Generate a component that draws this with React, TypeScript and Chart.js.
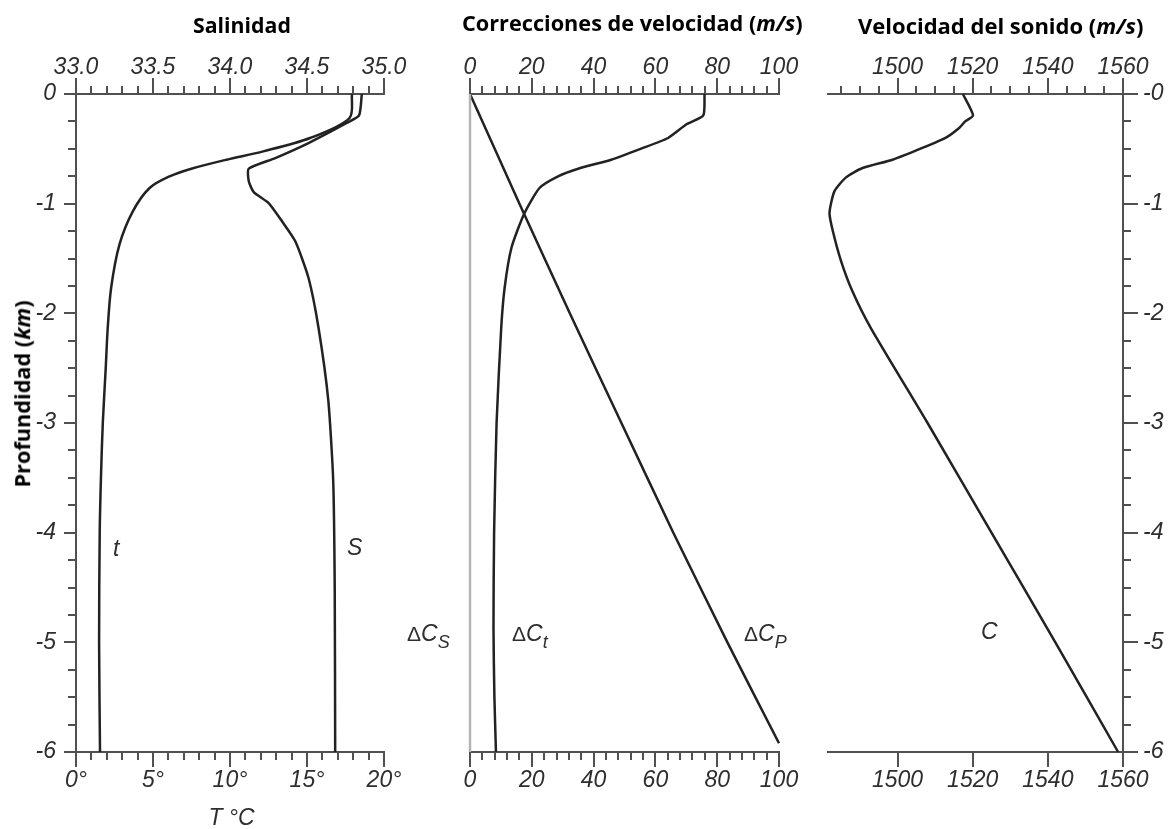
import React, { useEffect, useRef } from 'react';
import { Chart, registerables } from 'chart.js';

Chart.register(...registerables);

// ---------------- Data ----------------
// Panel 1: temperature (bottom axis, °C) and salinity (top axis) versus depth (km)
const tempDepth = [0, -0.219, -0.401, -0.523, -0.599, -0.681, -0.751, -0.857, -1.07, -1.374, -1.769, -2.134, -2.5, -3, -3.5, -4, -5, -6];
const tempValues = [17.92, 17.76, 15.2, 12.16, 9.77, 7.49, 6.08, 4.78, 3.69, 2.82, 2.28, 2.06, 1.93, 1.74, 1.62, 1.54, 1.5, 1.56];

const salDepth = [0, -0.195, -0.264, -0.447, -0.584, -0.681, -0.796, -0.894, -0.994, -1.161, -1.343, -1.678, -2.134, -2.79, -3.52, -4.5, -6];
const salValues = [34.856, 34.838, 34.758, 34.51, 34.294, 34.122, 34.122, 34.154, 34.251, 34.338, 34.424, 34.51, 34.575, 34.638, 34.67, 34.68, 34.683];

// Panel 2: speed corrections (m/s)
const dcpDepth = [0, -1, -2, -3, -4, -5, -5.92];
const dcpValues = [0, 16.0, 32.3, 49.0, 65.8, 83.3, 100];

const dctDepth = [0, -0.195, -0.274, -0.401, -0.498, -0.599, -0.681, -0.751, -0.857, -1.094, -1.404, -1.769, -2.134, -3, -4, -4.87, -5.5, -6];
const dctValues = [75.9, 75.5, 70.2, 64.1, 55.4, 45.7, 35.0, 28.5, 22.5, 17.5, 13.4, 11.2, 10.1, 8.6, 7.8, 7.6, 7.9, 8.4];

const dcsDepth = [0, -6];
const dcsValues = [0, 0];

// Panel 3: sound speed (m/s)
const cDepth = [0, -0.195, -0.25, -0.31, -0.395, -0.492, -0.599, -0.675, -0.76, -0.888, -1.085, -1.252, -1.526, -1.799, -2.134, -3, -4, -5, -6];
const cValues = [1517.4, 1520.1, 1518.0, 1516.4, 1513.0, 1506.6, 1498.7, 1490.7, 1486.3, 1483.2, 1481.9, 1482.8, 1485.0, 1488.0, 1492.9, 1508, 1525, 1542, 1558.7];

// Tick labels
const depthTicks = [0, -1, -2, -3, -4, -5, -6];
const salinityTicks = [33, 33.5, 34, 34.5, 35];
const tempTicks = [0, 5, 10, 15, 20];
const correctionTicks = [0, 20, 40, 60, 80, 100];
const speedTicks = [1500, 1520, 1540, 1560];

const steps = (a: number, b: number, s: number) =>
  Array.from({ length: Math.round((b - a) / s) + 1 }, (_, i) => +(a + i * s).toFixed(4));

const depthMinor = steps(-6, 0, 0.25);
const salinityMinor = steps(33, 35, 0.1);
const tempMinor = steps(0, 20, 1);
const correctionMinor = steps(0, 100, 4);
const speedMinor = steps(1485, 1560, 5);

// ---------------- Styling helpers ----------------
const AXIS = '#505050';
const LABEL = '#2e2e2e';
const LINE = '#222222';
const tickFont = { family: "'Liberation Sans', Arial, sans-serif", size: 23, style: 'italic' as const };

type Side = 'top' | 'bottom' | 'left' | 'right';
function scale(
  side: Side,
  min: number,
  max: number,
  values: number[],
  o: { major: boolean; len: number; size: number; pad?: number; fmt?: (v: number) => string; border?: boolean }
): any {
  const horizontal = side === 'top' || side === 'bottom';
  return {
    type: 'linear',
    axis: horizontal ? 'x' : 'y',
    position: side,
    min,
    max,
    bounds: 'data',
    weight: o.major ? 1 : 0,
    border: { display: !!o.border, color: AXIS, width: 2 },
    grid: {
      display: true,
      drawOnChartArea: false,
      drawTicks: true,
      tickLength: o.len,
      tickColor: AXIS,
      tickWidth: 2,
      color: AXIS,
      lineWidth: 2,
    },
    ticks: {
      display: !!o.fmt,
      autoSkip: false,
      maxRotation: 0,
      minRotation: 0,
      padding: o.pad ?? 0,
      font: tickFont,
      color: LABEL,
      callback: (v: any) => (o.fmt ? o.fmt(Number(v)) : ''),
    },
    afterBuildTicks: (s: any) => {
      s.ticks = values.map((value) => ({ value }));
    },
    afterFit: (s: any) => {
      if (horizontal) s.height = o.size;
      else s.width = o.size;
    },
  };
}

const series = (xs: number[], ys: number[], xAxisID: string, color = LINE, width = 2.5, tension = 0.3) => ({
  data: xs.map((x, i) => ({ x, y: ys[i] })),
  xAxisID,
  yAxisID: 'y',
  borderColor: color,
  borderWidth: width,
  pointRadius: 0,
  tension,
  fill: false,
  clip: false as any,
});

const baseOptions = (padding: any, scales: any): any => ({
  animation: false,
  responsive: false,
  events: [],
  layout: { padding },
  plugins: { legend: { display: false }, tooltip: { enabled: false }, title: { display: false } },
  scales,
});

const depthFmtLeft = (v: number) => String(v);
const depthFmtRight = (v: number) => (v === 0 ? '-0' : String(v));

function config1(): any {
  return {
    type: 'line',
    data: { datasets: [series(tempValues, tempDepth, 'xT', LINE, 2.5, 0.3), series(salValues, salDepth, 'xS', LINE, 2.5, 0.2)] },
    options: baseOptions({ left: 0, right: 36, top: 0, bottom: 0 }, {
      xS: scale('top', 33, 35, salinityTicks, { major: true, len: 16, pad: -3, size: 94, fmt: (v) => v.toFixed(1), border: true }),
      xSm: scale('top', 33, 35, salinityMinor, { major: false, len: 8, size: 0 }),
      xT: scale('bottom', 0, 20, tempTicks, { major: true, len: 15, pad: 0, size: 77, fmt: (v) => `${v}°`, border: true }),
      xTm: scale('bottom', 0, 20, tempMinor, { major: false, len: 8, size: 0 }),
      y: scale('left', -6, 0, depthTicks, { major: true, len: 12, pad: 8, size: 76, fmt: depthFmtLeft, border: true }),
      ym: scale('left', -6, 0, depthMinor, { major: false, len: 8, size: 0 }),
    }),
  };
}

function config2(): any {
  return {
    type: 'line',
    data: {
      datasets: [
        series(dcsValues, dcsDepth, 'xB', '#b4b4b4', 2.5, 0),
        series(dcpValues, dcpDepth, 'xB', LINE, 2.5, 0.2),
        series(dctValues, dctDepth, 'xB', LINE, 2.5, 0.2),
      ],
    },
    options: baseOptions({ left: 50, right: 41, top: 0, bottom: 0 }, {
      xTop: scale('top', 0, 100, correctionTicks, { major: true, len: 16, pad: -3, size: 94, fmt: (v) => String(v), border: true }),
      xTopm: scale('top', 0, 100, correctionMinor, { major: false, len: 8, size: 0 }),
      xB: scale('bottom', 0, 100, correctionTicks, { major: true, len: 15, pad: 0, size: 77, fmt: (v) => String(v), border: true }),
      xBm: scale('bottom', 0, 100, correctionMinor, { major: false, len: 8, size: 0 }),
      y: { type: 'linear', axis: 'y', min: -6, max: 0, display: false },
    }),
  };
}

function config3(): any {
  return {
    type: 'line',
    data: { datasets: [series(cValues, cDepth, 'xB', LINE, 2.5, 0.2)] },
    options: baseOptions({ left: 28, right: 0, top: 0, bottom: 0 }, {
      xTop: scale('top', 1481.5, 1560, speedTicks, { major: true, len: 16, pad: -3, size: 94, fmt: (v) => String(v), border: true }),
      xTopm: scale('top', 1481.5, 1560, speedMinor, { major: false, len: 8, size: 0 }),
      xB: scale('bottom', 1481.5, 1560, speedTicks, { major: true, len: 15, pad: 0, size: 77, fmt: (v) => String(v), border: true }),
      y: scale('right', -6, 0, depthTicks, { major: true, len: 15, pad: 5, size: 48, fmt: depthFmtRight, border: true }),
      ym: scale('right', -6, 0, depthMinor, { major: false, len: 8, size: 0 }),
    }),
  };
}

// ---------------- Component ----------------
const titleStyle: React.CSSProperties = {
  position: 'absolute',
  fontFamily: "'Open Sans', sans-serif",
  fontWeight: 700,
  fontSize: 21,
  lineHeight: 1,
  color: '#000',
  whiteSpace: 'nowrap',
};

const noteStyle: React.CSSProperties = {
  position: 'absolute',
  fontFamily: "'Liberation Sans', Arial, sans-serif",
  fontStyle: 'italic',
  fontSize: 23,
  lineHeight: 1,
  color: '#2e2e2e',
  whiteSpace: 'nowrap',
};

function Delta({ left, sub }: { left: number; sub: string }) {
  return (
    <div style={{ ...noteStyle, fontSize: 23, left, top: 622 }}>
      <span style={{ fontStyle: 'normal', fontSize: 21 }}>Δ</span>
      <span>C</span>
      <span style={{ fontSize: 18, position: 'relative', top: 7 }}>{sub}</span>
    </div>
  );
}

export default function App() {
  const r1 = useRef<HTMLCanvasElement>(null);
  const r2 = useRef<HTMLCanvasElement>(null);
  const r3 = useRef<HTMLCanvasElement>(null);

  useEffect(() => {
    const charts = [
      new Chart(r1.current!, config1()),
      new Chart(r2.current!, config2()),
      new Chart(r3.current!, config3()),
    ];
    return () => charts.forEach((c) => c.destroy());
  }, []);

  const cv = (left: number, width: number): React.CSSProperties => ({
    position: 'absolute',
    left,
    top: 0,
    width,
    height: 829,
  });

  return (
    <div style={{ position: 'absolute', left: 0, top: 0, width: 1171, height: 829, background: '#fff', overflow: 'hidden' }}>
      <canvas ref={r1} width={420} height={829} style={cv(0, 420)} />
      <canvas ref={r2} width={400} height={829} style={cv(420, 400)} />
      <canvas ref={r3} width={371} height={829} style={cv(800, 371)} />

      <div style={{ ...titleStyle, fontSize: 21.3, left: 193, top: 14 }}>Salinidad</div>
      <div style={{ ...titleStyle, fontSize: 21.7, left: 462, top: 12 }}>
        Correcciones de velocidad (<i>m/s</i>)
      </div>
      <div style={{ ...titleStyle, fontSize: 22, left: 858, top: 14 }}>
        Velocidad del sonido (<i>m/s</i>)
      </div>
      <div style={{ ...titleStyle, fontSize: 21.7, left: 22, top: 394, transform: 'translate(-50%, -50%) rotate(-90deg)' }}>
        Profundidad (<i>km</i>)
      </div>

      <div style={{ ...noteStyle, left: 231.5, top: 805.5, transform: 'translateX(-50%)' }}>T °C</div>
      <div style={{ ...noteStyle, left: 113, top: 537 }}>t</div>
      <div style={{ ...noteStyle, left: 347, top: 536 }}>S</div>
      <Delta left={407} sub="S" />
      <Delta left={512} sub="t" />
      <Delta left={744} sub="P" />
      <div style={{ ...noteStyle, left: 981, top: 620 }}>C</div>
    </div>
  );
}
